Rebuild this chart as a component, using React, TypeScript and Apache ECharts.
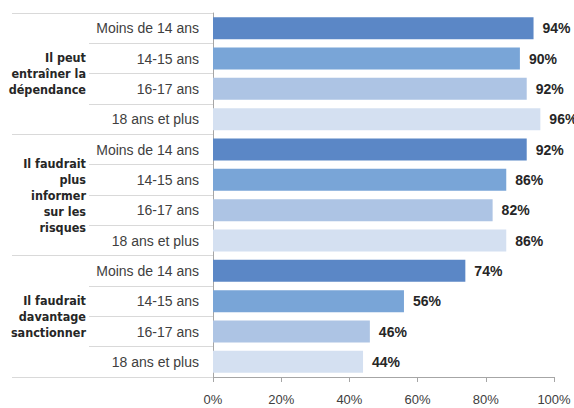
import React, { useEffect, useRef } from "react";
import * as echarts from "echarts";

const groups = [
  "Il peut\nentraîner la\ndépendance",
  "Il faudrait\nplus\ninformer\nsur les\nrisques",
  "Il faudrait\ndavantage\nsanctionner",
];
const ages = ["Moins de 14 ans", "14-15 ans", "16-17 ans", "18 ans et plus"];
const valuesDependance = [94, 90, 92, 96];
const valuesInformer = [92, 86, 82, 86];
const valuesSanctionner = [74, 56, 46, 44];
const xTicks = [0, 20, 40, 60, 80, 100];
const ageColors = ["#5b87c6", "#79a5d7", "#adc4e4", "#d4e0f1"];

export default function App() {
  const ref = useRef<HTMLDivElement>(null);
  useEffect(() => {
    if (!ref.current) return;
    const chart = echarts.init(ref.current, undefined, { renderer: "svg" });
    const groupValues = [valuesDependance, valuesInformer, valuesSanctionner];
    const cats: string[] = [];
    const data: any[] = [];
    groupValues.forEach((vals) => {
      vals.forEach((v, i) => {
        cats.push(ages[i]);
        data.push({ value: v, itemStyle: { color: ageColors[i] } });
      });
    });
    const font = "'Liberation Sans Narrow', 'DejaVu Sans Condensed', 'Liberation Sans', sans-serif";
    chart.setOption({
      animation: false,
      grid: { left: 213, right: 20, top: 13, bottom: 31 },
      xAxis: {
        type: "value",
        min: xTicks[0],
        max: xTicks[xTicks.length - 1],
        interval: 20,
        splitLine: { show: false },
        axisLine: { show: true, lineStyle: { color: "#a6a6a6" } },
        axisTick: { show: true, length: 5, lineStyle: { color: "#a6a6a6" } },
        axisLabel: {
          formatter: "{value}%",
          color: "#404040",
          fontSize: 13,
          margin: 16,
          fontFamily: "'Liberation Sans', Arial, sans-serif",
        },
      },
      yAxis: [
        {
          type: "category",
          data: cats,
          inverse: true,
          position: "left",
          axisLine: { show: true, lineStyle: { color: "#a6a6a6" } },
          axisTick: { show: true, length: 124, lineStyle: { color: "#d9d9d9" } },
          axisLabel: {
            color: "#404040",
            fontSize: 14,
            margin: 14,
            fontFamily: "'Liberation Sans', Arial, sans-serif",
          },
        },
        {
          type: "category",
          data: groups,
          inverse: true,
          position: "left",
          offset: 0,
          axisLine: { show: false },
          axisTick: { show: true, length: 201, lineStyle: { color: "#d9d9d9" } },
          axisLabel: {
            color: "#262626",
            fontSize: 12.5,
            fontWeight: "bold",
            lineHeight: 16,
            margin: 127,
            align: "right",
            fontFamily: font,
          },
        },
      ],
      series: [
        {
          type: "bar",
          yAxisIndex: 0,
          data,
          barWidth: 22,
          label: {
            show: true,
            position: "right",
            distance: 9,
            formatter: "{c}%",
            fontWeight: "bold",
            fontSize: 14,
            color: "#262626",
            fontFamily: "'Liberation Sans', Arial, sans-serif",
          },
        },
      ],
    });
    return () => chart.dispose();
  }, []);
  return (
    <div
      ref={ref}
      style={{ position: "absolute", left: 0, top: 0, width: 574, height: 408 }}
    />
  );
}
